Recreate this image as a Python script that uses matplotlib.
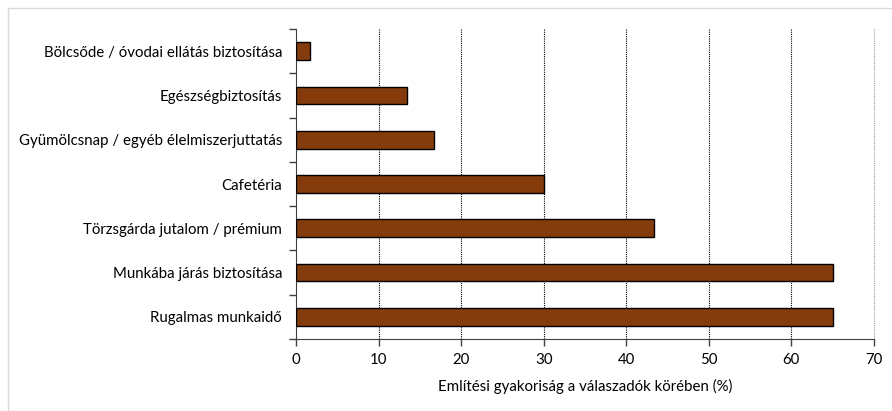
import matplotlib

matplotlib.use("Agg")
import matplotlib.pyplot as plt
from matplotlib.patches import Rectangle

categories = [
    "Rugalmas munkaidő",
    "Munkába járás biztosítása",
    "Törzsgárda jutalom / prémium",
    "Cafetéria",
    "Gyümölcsnap / egyéb élelmiszerjuttatás",
    "Egészségbiztosítás",
    "Bölcsőde / óvodai ellátás biztosítása",
]
values = [65.0, 65.0, 43.3, 30.0, 16.7, 13.4, 1.7]
xticks = [0, 10, 20, 30, 40, 50, 60, 70]

plt.rcParams["font.family"] = ["Lato", "DejaVu Sans"]

W, H = 892, 411
fig = plt.figure(figsize=(W / 100, H / 100), dpi=100)
ax = fig.add_axes([296 / W, 1 - 339 / H, (874 - 296) / W, (339 - 29) / H])

# light frame around the figure (only top and left visible in the original)
fig.patches.append(Rectangle((8 / W, -0.05), 1.1, 1 - 8 / H + 0.05,
                             transform=fig.transFigure, fill=False,
                             edgecolor="#d9d9d9", linewidth=1))

y = range(len(categories))
ax.barh(y, values, height=0.4, color="#843c0c", edgecolor="black", linewidth=1, zorder=3)

ax.set_xlim(0, 70)
ax.set_ylim(-0.5, len(categories) - 0.5)
ax.set_xticks(xticks)
ax.set_xticklabels([str(t) for t in xticks], fontsize=10.8)
ax.set_yticks(list(y))
ax.set_yticklabels(categories, fontsize=10.8)
ax.tick_params(axis="y", length=0, pad=10)
ax.set_yticks([i - 0.5 for i in range(len(categories) + 1)], minor=True)
ax.tick_params(axis="y", which="minor", length=5, width=1, color="#404040")
ax.tick_params(axis="x", length=5, width=1, color="#404040", pad=5)

for t in xticks[1:]:
    ax.axvline(t, color="black" if t < 70 else "#999999", linestyle=(0, (1, 1)),
               linewidth=0.8, zorder=1, clip_on=False)

for side in ["top", "right"]:
    ax.spines[side].set_visible(False)
ax.spines["left"].set_color("#404040")
ax.spines["bottom"].set_color("#404040")

ax.set_xlabel("Említési gyakoriság a válaszadók körében (%)", fontsize=10.8, labelpad=9)

fig.savefig("out.png", dpi=100)
plt.close(fig)
